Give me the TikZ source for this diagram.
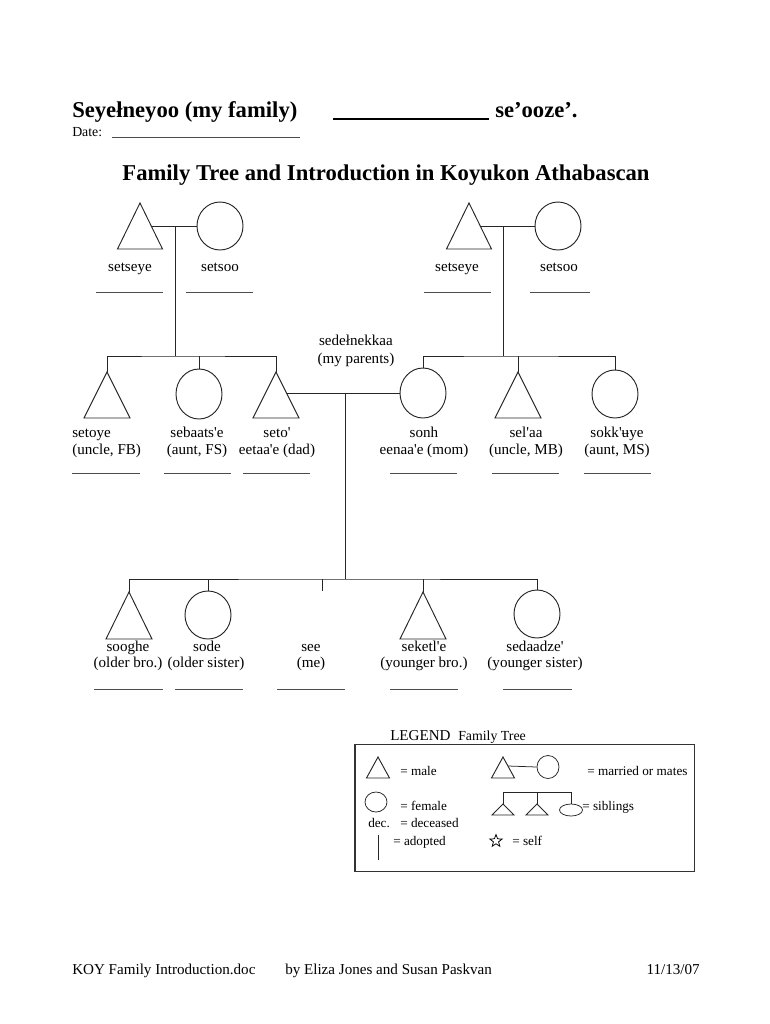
\documentclass[tikz,border=0pt]{standalone}
\usepackage{fontspec}
\setmainfont{Liberation Serif}
\usetikzlibrary{shapes.geometric}
\newcommand\qs{\textquotesingle}
\newcommand\maletri[5]{%
  \coordinate (#1) at (#2,#3);
  \draw[ln, line join=miter] (#1) -- ++(-#4,#5) -- ++(2*#4,0) -- cycle;}
\begin{document}
\begin{tikzpicture}[x=0.795pt,y=-0.795pt,
  ln/.style={line width=0.75pt, black!85},
  blank/.style={line width=0.5pt, black!70},
  fem/.style={ellipse, draw=black!85, line width=0.75pt, minimum width=46*0.795pt, minimum height=48*0.795pt, inner sep=0pt},
  femsm/.style={ellipse, draw=black!85, line width=0.6pt, inner sep=0pt},
  lbl/.style={anchor=base, inner sep=0pt, font=\fontsize{12}{14}\selectfont},
  lbll/.style={lbl, anchor=base west},
  leg/.style={anchor=base west, inner sep=0pt, font=\fontsize{10.5}{12}\selectfont},
  head/.style={anchor=base west, inner sep=0pt, font=\fontsize{18}{21}\selectfont\bfseries}]
\path[use as bounding box] (0,0) rectangle (770,1024);

% ---------- header ----------
\node[head] (h1) at (72,117) {Seyełneyoo (my family)};
\coordinate (hu1) at (333,119); \coordinate (hu2) at (489,119);
\draw[line width=1.1pt] (hu1) -- (hu2);
\node[head] (h2) at (495,117) {se’ooze’.};
\node[anchor=base west, inner sep=0pt, font=\fontsize{11}{13}\selectfont] (date) at (72,136) {Date:};
\coordinate (du1) at (112,137); \coordinate (du2) at (300,137);
\draw[blank] (du1) -- (du2);
\node[anchor=base, inner sep=0pt, font=\fontsize{18}{21}\selectfont\bfseries] (title) at (386,180) {Family Tree and Introduction in Koyukon Athabascan};

% ---------- generation 1 ----------
\maletri{gf1}{140}{203}{22.5}{46}
\node[fem] (gm1) at (220,226) {};
\coordinate (gf1r) at (151.25,226);
\coordinate (m1) at (175,226);
\draw[ln] (gf1r) -- (gm1.west);

\maletri{gf2}{469}{203}{22.5}{46}
\node[fem] (gm2) at (558,226) {};
\coordinate (gf2r) at (480.25,226);
\coordinate (m2) at (503,226);
\draw[ln] (gf2r) -- (gm2.west);

\node[lbl] (l-gf1) at (130,271) {setseye};
\node[lbl] (l-gm1) at (220,271) {setsoo};
\node[lbl] (l-gf2) at (457,271) {setseye};
\node[lbl] (l-gm2) at (559,271) {setsoo};
\draw[blank] (96,292) -- (163,292);
\draw[blank] (186,292) -- (253,292);
\draw[blank] (424,292) -- (491,292);
\draw[blank] (530,292) -- (590,292);

% ---------- generation 2 ----------
\maletri{uFB}{107}{372}{23}{46}
\node[fem, minimum height=50*0.795pt] (aFS) at (199,394) {};
\maletri{dad}{276}{372}{23}{46}
\node[fem, minimum height=50*0.795pt] (mom) at (423,393) {};
\maletri{uMB}{518}{372}{23}{46}
\node[fem] (aMS) at (615,394) {};

\coordinate (b1) at (175,356);
\coordinate (b2) at (503,356);
\draw[ln] (m1) -- (b1);
\draw[ln] (m2) -- (b2);
\draw[ln] (uFB) |- (b1) -| (dad);
\draw[ln] (aFS.north) -- (aFS.north |- b1);
\draw[ln] (mom.north) |- (b2) -| (aMS.north);
\draw[ln] (uMB) -- (uMB |- b2);

\node[lbl] (par1) at (356,345) {sedełnekkaa};
\node[lbl] (par2) at (356,363) {(my parents)};

\coordinate (dadr) at (286.5,393);
\coordinate (m3) at (345,393);
\draw[ln] (dadr) -- (mom.west);

\node[lbll] (l-uFB1) at (72,437) {setoye};
\node[lbll] (l-uFB2) at (72,454) {(uncle, FB)};
\node[lbl] (l-aFS1) at (197,437) {sebaats\qs e};
\node[lbl] (l-aFS2) at (197,454) {(aunt, FS)};
\node[lbl] (l-dad1) at (277,437) {seto\qs};
\node[lbl] (l-dad2) at (277,454) {eetaa\qs e (dad)};
\node[lbl] (l-mom1) at (424,437) {sonh};
\node[lbl] (l-mom2) at (424,454) {eenaa\qs e (mom)};
\node[lbl] (l-uMB1) at (526,437) {sel\qs aa};
\node[lbl] (l-uMB2) at (526,454) {(uncle, MB)};
\node[lbl] (l-aMS1) at (617,437) {sokk\qs ʉye};
\node[lbl] (l-aMS2) at (617,454) {(aunt, MS)};
\draw[blank] (72,473) -- (140,473);
\draw[blank] (164,473) -- (231,473);
\draw[blank] (243,473) -- (310,473);
\draw[blank] (390,473) -- (457,473);
\draw[blank] (492,473) -- (559,473);
\draw[blank] (584,473) -- (651,473);

% ---------- generation 3 ----------
\coordinate (b3) at (345,579);
\draw[ln] (m3) -- (b3);
\maletri{oB}{129}{592}{23}{47}
\node[fem] (oS) at (208,615) {};
\maletri{yB}{423}{592}{23}{47}
\node[fem] (yS) at (537,614) {};
\coordinate (self) at (322,591);
\draw[ln] (oB) |- (b3) -| (yS.north);
\draw[ln] (oS.north) -- (oS.north |- b3);
\draw[ln] (self) -- (self |- b3);
\draw[ln] (yB) -- (yB |- b3);

\node[lbl] (l-oB1) at (128,651) {sooghe};
\node[lbl] (l-oB2) at (128,667) {(older bro.)};
\node[lbl] (l-oS1) at (207,651) {sode};
\node[lbl] (l-oS2) at (206,667) {(older sister)};
\node[lbl] (l-me1) at (311,651) {see};
\node[lbl] (l-me2) at (311,667) {(me)};
\node[lbl] (l-yB1) at (424,651) {seketl\qs e};
\node[lbl] (l-yB2) at (424,667) {(younger bro.)};
\node[lbl] (l-yS1) at (535,651) {sedaadze\qs};
\node[lbl] (l-yS2) at (535,667) {(younger sister)};
\draw[blank] (94,689) -- (163,689);
\draw[blank] (175,689) -- (243,689);
\draw[blank] (277,689) -- (345,689);
\draw[blank] (390,689) -- (458,689);
\draw[blank] (503,689) -- (572,689);

% ---------- legend ----------
\draw[line width=0.8pt, black!80] (355,744) rectangle (694,871);
\node[anchor=base west, inner sep=0pt, font=\fontsize{12}{14}\selectfont] (legend) at (390,740) {LEGEND};
\node[anchor=base west, inner sep=0pt, font=\fontsize{11}{13}\selectfont] (ftree) at (458,740) {Family Tree};

\maletri{lm}{378}{757}{11.5}{21}
\node[leg] (t-male) at (400,775) {= male};

\maletri{lmm}{503}{757}{11.5}{21}
\node[femsm, minimum width=22*0.795pt, minimum height=23*0.795pt] (lmf) at (548,767) {};
\coordinate (lmmr) at (508,766);
\draw[ln, line width=0.6pt] (lmmr) -- (lmf.west);
\node[leg] (t-mar) at (587,775) {= married or mates};

\node[femsm, minimum width=22*0.795pt, minimum height=20*0.795pt] (lf) at (376,802) {};
\node[leg] (t-fem) at (400,810) {= female};

\maletri{ls1}{503}{804}{11}{11}
\maletri{ls2}{537}{804}{11}{11}
\node[femsm, minimum width=23*0.795pt, minimum height=12*0.795pt] (ls3) at (571,810) {};
\coordinate (lsb) at (537,792);
\draw[ln, line width=0.6pt] (ls1) |- (lsb) -| (ls3.north);
\draw[ln, line width=0.6pt] (ls2) -- (lsb);
\node[leg] (t-sib) at (582,810) {= siblings};

\node[leg] (t-dec) at (368,827) {dec.};
\node[leg] (t-dec2) at (400,827) {= deceased};

\coordinate (la1) at (378,835); \coordinate (la2) at (378,860);
\draw[ln, line width=0.6pt] (la1) -- (la2);
\node[leg] (t-ad) at (393,845) {= adopted};

\node[star, star points=5, star point ratio=2.4, draw, line width=0.6pt, minimum size=13*0.795pt, inner sep=0pt] (lstar) at (496,841) {};
\node[leg] (t-self) at (512,845) {= self};

% ---------- footer ----------
\node[lbll] (f1) at (72,974) {KOY Family Introduction.doc};
\node[lbll] (f2) at (285,974) {by Eliza Jones and Susan Paskvan};
\node[lbl, anchor=base east] (f3) at (700,974) {11/13/07};
\end{tikzpicture}
\end{document}
